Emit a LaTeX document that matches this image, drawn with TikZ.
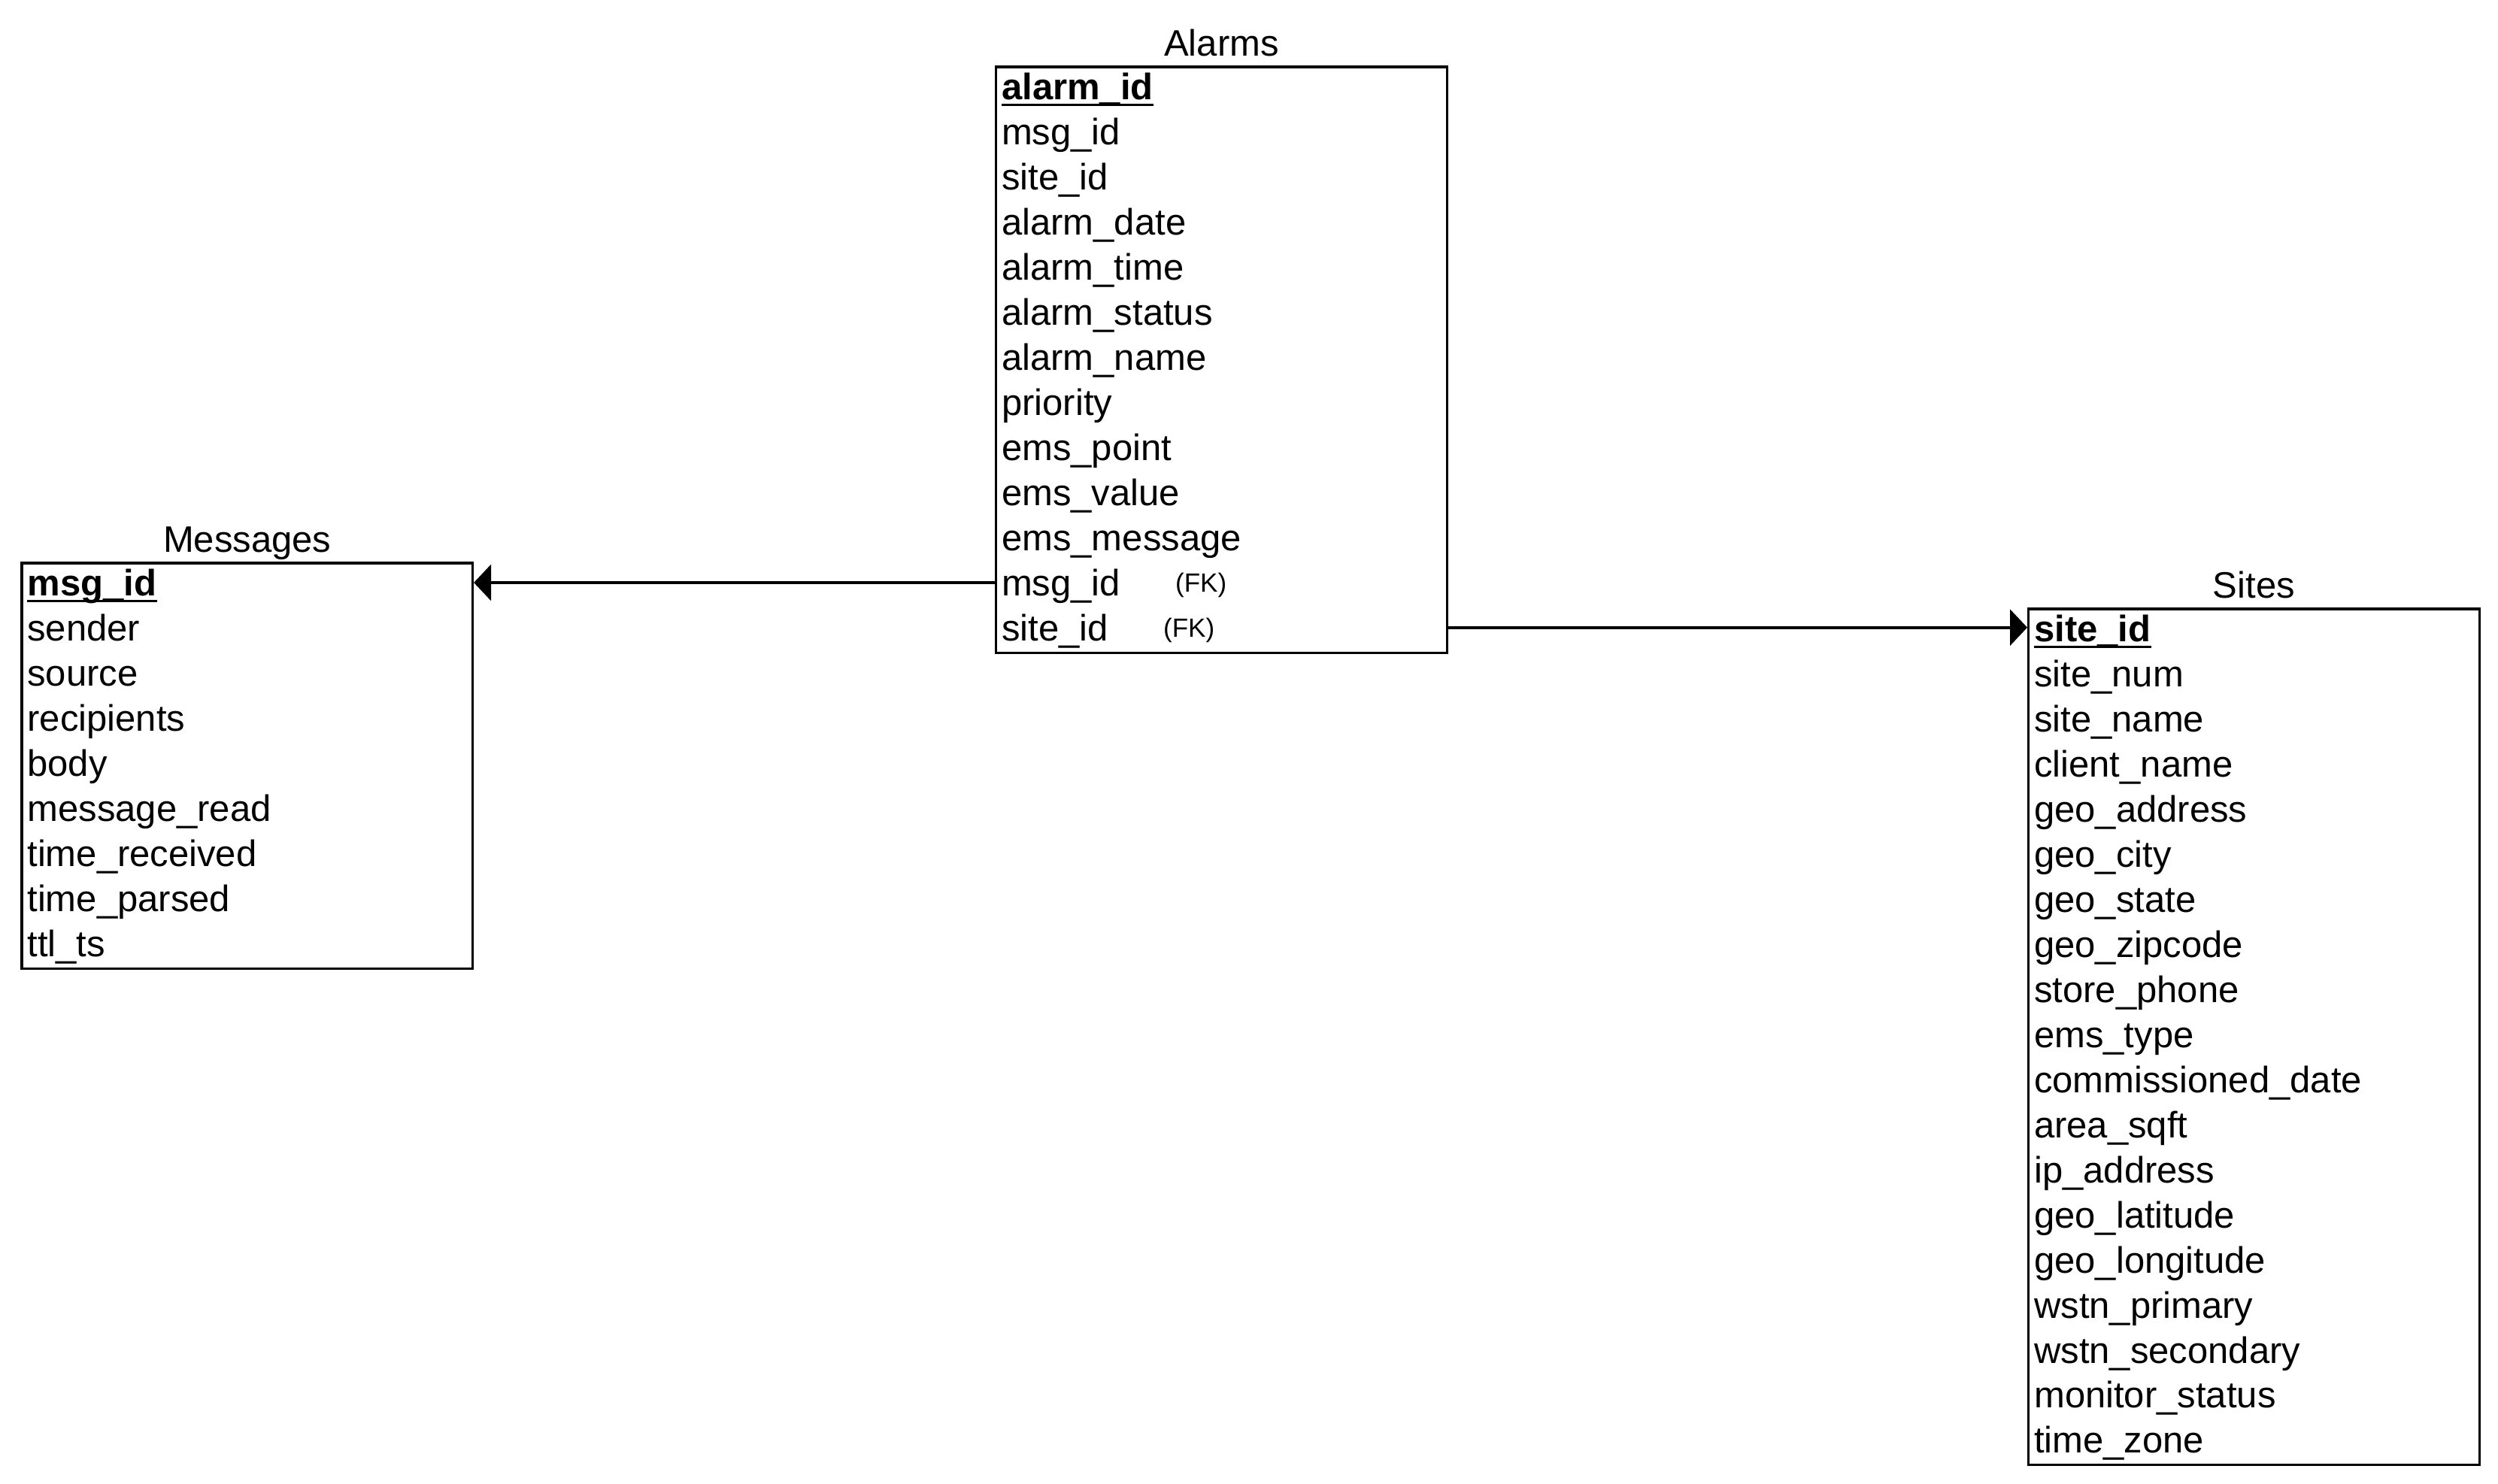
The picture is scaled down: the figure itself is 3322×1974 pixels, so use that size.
\documentclass[tikz,border=0pt]{standalone}
\usepackage{fontspec}
\setmainfont{Liberation Sans}
\usetikzlibrary{arrows.meta}
\begin{document}
\begin{tikzpicture}[x=0.3pt,y=-0.3pt,
  tbl/.style={draw=black,line width=1pt,inner sep=0pt,anchor=north west,minimum width=179.85pt},
  fld/.style={inner sep=0pt,anchor=base west,font=\fontsize{14.7pt}{17pt}\selectfont},
  pkfld/.style={fld,font=\fontsize{14.7pt}{17pt}\selectfont\bfseries},
  fk/.style={inner sep=0pt,anchor=base west,font=\fontsize{10.5pt}{12pt}\selectfont},
  ttl/.style={inner sep=0pt,anchor=base,font=\fontsize{14.7pt}{17pt}\selectfont},
  pkline/.style={line width=0.9pt},
  rel/.style={line width=1.15pt,-{Triangle[length=6.9pt,width=14.4pt]}}]
\useasboundingbox[fill=white] (0,0) rectangle (3322,1974);

% ---------- Alarms ----------
\node[tbl,minimum height=233.85pt] (alarms) at (1323,87.3) {};
\node[ttl] (tAlarms) at ([yshift=3.9pt]alarms.north) {Alarms};
\node[pkfld] (a0) at (1331.5,132.8) {alarm\_id};
\draw[pkline] ([yshift=-1.95pt]a0.base west) -- ([yshift=-1.95pt]a0.base east);
\foreach \t [count=\i from 1] in {msg\_id,site\_id,alarm\_date,alarm\_time,alarm\_status,alarm\_name,priority,ems\_point,ems\_value,ems\_message,msg\_id,site\_id}
  \node[fld] (a\i) at (1331.5,{132.8+59.95*\i}) {\t};
\node[fk] (fk1) at (1562.5,787.4) {(FK)};
\node[fk] (fk2) at (1546.5,847.4) {(FK)};

% ---------- Messages ----------
\node[tbl,minimum height=161.8pt] (messages) at (27.3,747.3) {};
\node[ttl] (tMessages) at ([yshift=3.9pt]messages.north) {Messages};
\node[pkfld] (m0) at (35.8,792.8) {msg\_id};
\draw[pkline] ([yshift=-1.95pt]m0.base west) -- ([yshift=-1.95pt]m0.base east);
\foreach \t [count=\i from 1] in {sender,source,recipients,body,message\_read,time\_received,time\_parsed,ttl\_ts}
  \node[fld] (m\i) at (35.8,{792.8+59.95*\i}) {\t};

% ---------- Sites ----------
\node[tbl,minimum height=341.6pt] (sites) at (2696,808.3) {};
\node[ttl] (tSites) at ([yshift=3.9pt]sites.north) {Sites};
\node[pkfld] (s0) at (2704.5,853.8) {site\_id};
\draw[pkline] ([yshift=-1.95pt]s0.base west) -- ([yshift=-1.95pt]s0.base east);
\foreach \t [count=\i from 1] in {site\_num,site\_name,client\_name,geo\_address,geo\_city,geo\_state,geo\_zipcode,store\_phone,ems\_type,commissioned\_date,area\_sqft,ip\_address,geo\_latitude,geo\_longitude,wstn\_primary,wstn\_secondary,monitor\_status,time\_zone}
  \node[fld] (s\i) at (2704.5,{853.8+59.95*\i}) {\t};

% ---------- Relations ----------
\coordinate (r1) at (0,775);
\coordinate (r2) at (0,834.7);
\draw[rel] (alarms.west |- r1) -- (messages.east |- r1);
\draw[rel] (alarms.east |- r2) -- (sites.west |- r2);
\end{tikzpicture}
\end{document}
